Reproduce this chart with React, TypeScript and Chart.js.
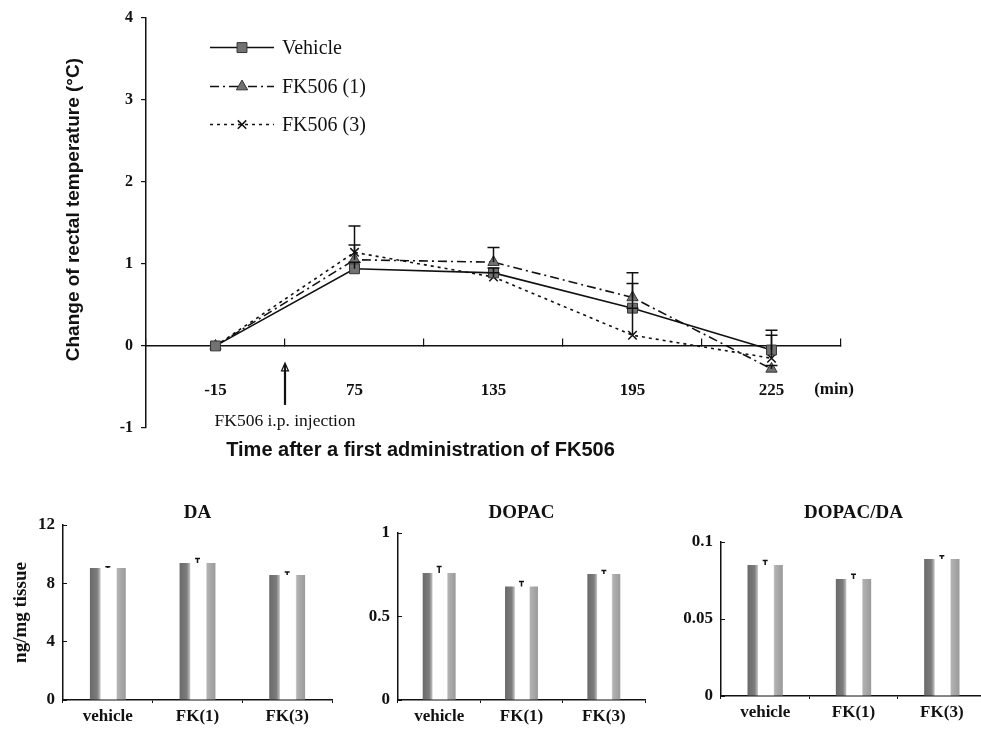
import React, { useEffect, useRef } from 'react';
import { Chart, registerables } from 'chart.js';

Chart.register(...registerables);

// ---------- Data ----------
const timeLabels = ['-15', '75', '135', '195', '225'];
const vehicleTemp = [0, 0.94, 0.89, 0.46, -0.05];
const vehicleErr = [0, 0.08, 0.06, 0.3, 0.24];
const fk1Temp = [0, 1.05, 1.02, 0.59, -0.28];
const fk1Err = [0, 0.18, 0.18, 0.3, 0.04];
const fk3Temp = [0, 1.14, 0.84, 0.13, -0.15];
const fk3Err = [0, 0.32, 0.05, 0.33, 0.28];
const tempTicks = [-1, 0, 1, 2, 3, 4];

const groupLabels = ['vehicle', 'FK(1)', 'FK(3)'];
const daValues = [9.05, 9.4, 8.57];
const daErr = [0.08, 0.3, 0.2];
const daTicks = [0, 4, 8, 12];
const dopacValues = [0.76, 0.68, 0.755];
const dopacErr = [0.04, 0.03, 0.02];
const dopacTicks = [0, 0.5, 1];
const ratioValues = [0.085, 0.076, 0.089];
const ratioErr = [0.003, 0.003, 0.002];
const ratioTicks = [0, 0.05, 0.1];

// ---------- Styles ----------
const SERIF = 'Liberation Serif';
const SANS = 'Liberation Sans';
const INK = '#111';
const MARK_FILL = '#727272';

function drawMarker(ctx: CanvasRenderingContext2D, style: string, x: number, y: number, r: number, fill: string, stroke: string, lw: number) {
  ctx.save();
  ctx.setLineDash([]);
  ctx.fillStyle = fill;
  ctx.strokeStyle = stroke;
  ctx.lineWidth = lw;
  ctx.beginPath();
  if (style === 'rect') {
    const s = r * Math.SQRT1_2;
    ctx.rect(x - s, y - s, 2 * s, 2 * s);
    ctx.fill();
    ctx.stroke();
  } else if (style === 'triangle') {
    ctx.moveTo(x, y - r);
    ctx.lineTo(x + r * Math.sin((2 * Math.PI) / 3), y + r * 0.5);
    ctx.lineTo(x - r * Math.sin((2 * Math.PI) / 3), y + r * 0.5);
    ctx.closePath();
    ctx.fill();
    ctx.stroke();
  } else {
    const d = r * Math.SQRT1_2;
    ctx.moveTo(x - d, y - d);
    ctx.lineTo(x + d, y + d);
    ctx.moveTo(x + d, y - d);
    ctx.lineTo(x - d, y + d);
    ctx.stroke();
  }
  ctx.restore();
}

const errorBarsPlugin = {
  id: 'errorBars',
  afterDatasetsDraw(chart: any, _args: any, opts: any) {
    const ctx = chart.ctx as CanvasRenderingContext2D;
    const ys = chart.scales.y;
    chart.data.datasets.forEach((ds: any, i: number) => {
      const errs: number[] | undefined = ds.errors;
      if (!errs) return;
      const meta = chart.getDatasetMeta(i);
      meta.data.forEach((el: any, j: number) => {
        const e = errs[j];
        if (!e) return;
        const v = ds.data[j];
        const x = el.x;
        const y0 = ys.getPixelForValue(v);
        const y1 = ys.getPixelForValue(v + e);
        const cap = opts.cap || 10;
        ctx.save();
        ctx.setLineDash([]);
        ctx.strokeStyle = INK;
        ctx.lineWidth = opts.lineWidth || 1.5;
        ctx.beginPath();
        ctx.moveTo(x, y0);
        ctx.lineTo(x, y1);
        ctx.moveTo(x - cap / 2, y1);
        ctx.lineTo(x + cap / 2, y1);
        ctx.stroke();
        ctx.restore();
      });
    });
  },
};

const topAnnotPlugin = {
  id: 'topAnnot',
  afterDraw(chart: any) {
    const ctx = chart.ctx as CanvasRenderingContext2D;
    const area = chart.chartArea;
    const xs = chart.scales.x;
    const ys = chart.scales.y;
    const y0 = ys.getPixelForValue(0);

    // Legend
    const rowOffsets = [30, 69, 107];
    chart.data.datasets.forEach((ds: any, i: number) => {
      const y = area.top + rowOffsets[i];
      const x0 = area.left + 64;
      const x1 = area.left + 128;
      ctx.save();
      ctx.strokeStyle = INK;
      ctx.lineWidth = 1.5;
      ctx.setLineDash(ds.borderDash || []);
      ctx.beginPath();
      ctx.moveTo(x0, y);
      ctx.lineTo(x1, y);
      ctx.stroke();
      ctx.restore();
      drawMarker(ctx, ds.pointStyle, area.left + 96, y, ds.pointRadius, ds.pointBackgroundColor, ds.pointBorderColor, ds.pointBorderWidth);
      ctx.save();
      ctx.fillStyle = INK;
      ctx.font = `20px "${SERIF}"`;
      ctx.textBaseline = 'middle';
      ctx.textAlign = 'left';
      ctx.fillText(ds.label, area.left + 136, y + 1);
      ctx.restore();
    });

    // Injection arrow between first and second time points
    const ax = (xs.getPixelForValue(0) + xs.getPixelForValue(1)) / 2;
    ctx.save();
    ctx.strokeStyle = INK;
    ctx.fillStyle = INK;
    ctx.lineWidth = 2.2;
    ctx.beginPath();
    ctx.moveTo(ax, y0 + 59);
    ctx.lineTo(ax, y0 + 19);
    ctx.stroke();
    ctx.lineWidth = 1.2;
    ctx.beginPath();
    ctx.moveTo(ax - 3.5, y0 + 25);
    ctx.lineTo(ax, y0 + 17);
    ctx.lineTo(ax + 3.5, y0 + 25);
    ctx.closePath();
    ctx.stroke();
    ctx.font = `17.5px "${SERIF}"`;
    ctx.textAlign = 'center';
    ctx.textBaseline = 'middle';
    ctx.fillText('FK506 i.p. injection', ax, y0 + 75);
    // unit label
    ctx.font = `bold 17px "${SERIF}"`;
    ctx.fillText('(min)', area.right - 7, y0 + 44);
    ctx.restore();
  },
};

function fixedTicks(arr: number[]) {
  return (scale: any) => {
    scale.ticks = arr.map((v) => ({ value: v }));
  };
}

function makeTopConfig(): any {
  const common = { borderColor: INK, borderWidth: 1.6, tension: 0, pointBorderColor: '#333', pointBackgroundColor: MARK_FILL, pointBorderWidth: 1 };
  return {
    type: 'line',
    data: {
      labels: timeLabels,
      datasets: [
        { ...common, label: 'Vehicle', data: vehicleTemp, errors: vehicleErr, pointStyle: 'rect', pointRadius: 7, borderDash: [] },
        { ...common, label: 'FK506 (1)', data: fk1Temp, errors: fk1Err, pointStyle: 'triangle', pointRadius: 6.5, borderDash: [9, 4, 2, 4] },
        { ...common, label: 'FK506 (3)', data: fk3Temp, errors: fk3Err, pointStyle: 'crossRot', pointRadius: 6, pointBorderColor: INK, pointBorderWidth: 1.5, borderDash: [3, 4] },
      ],
    },
    options: {
      responsive: false,
      animation: false,
      layout: { padding: { left: 0, right: 140, top: 13, bottom: 0 } },
      plugins: {
        legend: { display: false },
        tooltip: { enabled: false },
        errorBars: { cap: 12, lineWidth: 1.5 },
        title: {
          display: true,
          text: 'Time after a first administration of FK506',
          position: 'bottom',
          color: INK,
          font: { family: SANS, size: 20, weight: 'bold' },
          padding: { top: 10, bottom: 8 },
        },
      },
      scales: {
        x: {
          type: 'category',
          offset: true,
          position: { y: 0 },
          grid: { offset: true, drawOnChartArea: false, drawTicks: true, tickLength: -8, color: INK, lineWidth: 1.2 },
          border: { color: INK, width: 1.5 },
          ticks: { padding: 42, color: INK, maxRotation: 0, autoSkip: false, font: { family: SERIF, size: 17, weight: 'bold' } },
          afterFit: (s: any) => { s.height = 0; },
        },
        y: {
          min: -1,
          max: 4,
          afterBuildTicks: fixedTicks(tempTicks),
          grid: { drawOnChartArea: false, tickLength: 5, color: INK, lineWidth: 1.2 },
          border: { color: INK, width: 1.5 },
          ticks: { padding: 8, color: INK, callback: (v: any) => String(v), font: { family: SERIF, size: 16, weight: 'bold' } },
          title: {
            display: true,
            text: '     Change of rectal temperature (°C)',
            color: INK,
            font: { family: SANS, size: 19, weight: 'bold' },
            padding: { top: 62, bottom: 0 },
          },
          afterFit: (s: any) => { s.width = 146; },
        },
      },
    },
    plugins: [errorBarsPlugin, topAnnotPlugin],
  };
}

function barFill(c: any) {
  const chart = c.chart;
  const xs = chart.scales && chart.scales.x;
  if (!xs || c.dataIndex == null || !chart.chartArea) return '#999';
  const cx = xs.getPixelForValue(c.dataIndex);
  const w = (xs.width / groupLabels.length) * 0.4;
  const g = chart.ctx.createLinearGradient(cx - w / 2, 0, cx + w / 2, 0);
  g.addColorStop(0, '#6a6a6a');
  g.addColorStop(0.2, '#7c7c7c');
  g.addColorStop(0.28, '#b8b8b8');
  g.addColorStop(0.31, '#ffffff');
  g.addColorStop(0.73, '#ffffff');
  g.addColorStop(0.77, '#b2b2b2');
  g.addColorStop(1, '#9a9a9a');
  return g;
}

interface BarSpec {
  title: string;
  values: number[];
  errs: number[];
  ticks: number[];
  yTitle?: string;
  yWidth: number;
  rightPad: number;
  xHeight: number;
  titlePadBottom: number;
}

function makeBarConfig(spec: BarSpec): any {
  return {
    type: 'bar',
    data: {
      labels: groupLabels,
      datasets: [
        {
          label: spec.title,
          data: spec.values,
          errors: spec.errs,
          backgroundColor: barFill,
          borderWidth: 0,
          categoryPercentage: 1,
          barPercentage: 0.4,
        },
      ],
    },
    options: {
      responsive: false,
      animation: false,
      layout: { padding: { left: 0, right: spec.rightPad, top: 0, bottom: 0 } },
      plugins: {
        legend: { display: false },
        tooltip: { enabled: false },
        errorBars: { cap: 5, lineWidth: 1.5 },
        title: {
          display: true,
          text: spec.title,
          position: 'top',
          fullSize: false,
          color: INK,
          font: { family: SERIF, size: 19, weight: 'bold' },
          padding: { top: 11.6, bottom: spec.titlePadBottom },
        },
      },
      scales: {
        x: {
          type: 'category',
          offset: true,
          grid: { offset: true, drawOnChartArea: false, tickLength: 3, color: INK, lineWidth: 1 },
          border: { color: INK, width: 1.5 },
          ticks: { padding: 3, color: INK, maxRotation: 0, autoSkip: false, font: { family: SERIF, size: 17, weight: 'bold' } },
          afterFit: (s: any) => { s.height = spec.xHeight; },
        },
        y: {
          min: spec.ticks[0],
          max: spec.ticks[spec.ticks.length - 1],
          afterBuildTicks: fixedTicks(spec.ticks),
          grid: { drawOnChartArea: false, tickLength: -4, color: INK, lineWidth: 1 },
          border: { color: INK, width: 1.5 },
          ticks: { padding: 12, color: INK, callback: (v: any) => String(v), font: { family: SERIF, size: 17, weight: 'bold' } },
          title: spec.yTitle
            ? { display: true, text: spec.yTitle, color: INK, font: { family: SERIF, size: 19, weight: 'bold' }, padding: { top: 9.6, bottom: 0 } }
            : { display: false },
          afterFit: (s: any) => { s.width = spec.yWidth; },
        },
      },
    },
    plugins: [errorBarsPlugin],
  };
}

function ChartBox(props: { left: number; top: number; width: number; height: number; make: () => any }) {
  const ref = useRef<HTMLCanvasElement>(null);
  useEffect(() => {
    if (!ref.current) return;
    const chart = new Chart(ref.current, props.make());
    return () => chart.destroy();
  }, []);
  return (
    <div style={{ position: 'absolute', left: props.left, top: props.top, width: props.width, height: props.height }}>
      <canvas ref={ref} width={props.width} height={props.height} style={{ display: 'block', width: props.width, height: props.height }} />
    </div>
  );
}

export default function App() {
  return (
    <div style={{ position: 'absolute', left: 0, top: 0, width: 981, height: 731, overflow: 'hidden', background: '#fff' }}>
      <ChartBox left={0} top={0} width={981} height={470} make={makeTopConfig} />
      <ChartBox
        left={0}
        top={490}
        width={340}
        height={241}
        make={() => makeBarConfig({ title: 'DA', values: daValues, errs: daErr, ticks: daTicks, yTitle: 'ng/mg tissue', yWidth: 63, rightPad: 8, xHeight: 31, titlePadBottom: 0.6 })}
      />
      <ChartBox
        left={330}
        top={490}
        width={330}
        height={241}
        make={() => makeBarConfig({ title: 'DOPAC', values: dopacValues, errs: dopacErr, ticks: dopacTicks, yWidth: 68, rightPad: 15, xHeight: 31, titlePadBottom: 8.6 })}
      />
      <ChartBox
        left={650}
        top={490}
        width={340}
        height={241}
        make={() => makeBarConfig({ title: 'DOPAC/DA', values: ratioValues, errs: ratioErr, ticks: ratioTicks, yWidth: 71, rightPad: 4, xHeight: 35, titlePadBottom: 17.6 })}
      />
    </div>
  );
}
